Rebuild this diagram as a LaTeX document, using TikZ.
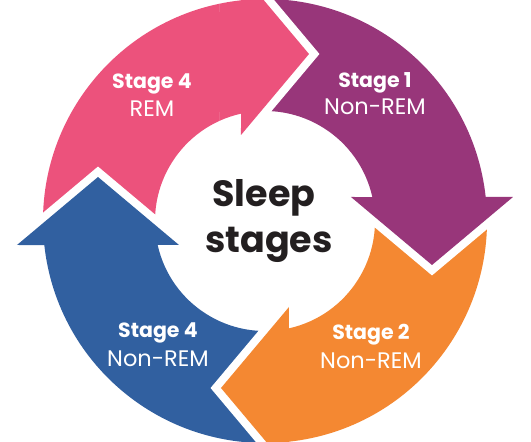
\documentclass[tikz,border=0pt]{standalone}
\usepackage{fontspec}
\setmainfont{Poppins}
\definecolor{remPink}{RGB}{236,82,124}
\definecolor{stageOnePurple}{RGB}{152,54,122}
\definecolor{stageTwoOrange}{RGB}{244,136,50}
\definecolor{stageFourBlue}{RGB}{49,96,160}
\definecolor{titleInk}{RGB}{35,31,32}
% one ring arrow (Stage 1 position), the others are rotated copies
\newcommand{\stagepath}{(96.21:222) arc[start angle=96.21, end angle=6.21, radius=222]
  -- (248,24) -- (167,-44) -- (86,24)
  -- (12.6:110) arc[start angle=12.6, end angle=102.6, radius=110] -- cycle}
\tikzset{
  stagearr/.style={fill=#1, preaction={draw=white, line width=16pt, line join=miter}},
  stagehead/.style={font=\bfseries\fontsize{20.5}{24}\selectfont, text=white,
    anchor=base, inner sep=0pt},
  stagename/.style={font=\fontsize{22.5}{27}\selectfont, text=white,
    anchor=base, inner sep=0pt},
  centretitle/.style={font=\bfseries\fontsize{36.5}{44}\selectfont, text=titleInk,
    anchor=base, inner sep=0pt},
}

\begin{document}
\begin{tikzpicture}[x=1pt, y=1pt]
  \useasboundingbox (-265,-221) rectangle (266,221);
  \clip (-265,-221) rectangle (266,221);
  % Arrows: each head lies over the start of the next one
  \fill[stagearr=remPink, rotate=90] \stagepath;
  \fill[stagearr=stageFourBlue, rotate=180] \stagepath;
  \fill[stagearr=stageTwoOrange, rotate=270] \stagepath;
  \fill[stagearr=stageOnePurple] \stagepath;
  % REM head again, over the Stage 1 start
  \begin{scope}
    \clip (-45,0) rectangle (300,300);
    \fill[stagearr=remPink, rotate=90] \stagepath;
  \end{scope}
  % Centre
  \node[centretitle] at (-1,14) (sleepword) {Sleep};
  \node[centretitle] at (4,-32) (stagesword) {stages};
  % Stage labels
  \node[stagehead] at (-113,132) (remhead) {Stage 4};
  \node[stagename] at (-113,104) (remname) {REM};
  \node[stagehead] at (110,133) (s1head) {Stage 1};
  \node[stagename] at (110,106) (s1name) {Non-REM};
  \node[stagehead] at (106,-119) (s2head) {Stage 2};
  \node[stagename] at (106,-147) (s2name) {Non-REM};
  \node[stagehead] at (-107,-117) (s4head) {Stage 4};
  \node[stagename] at (-107,-146) (s4name) {Non-REM};
\end{tikzpicture}
\end{document}
